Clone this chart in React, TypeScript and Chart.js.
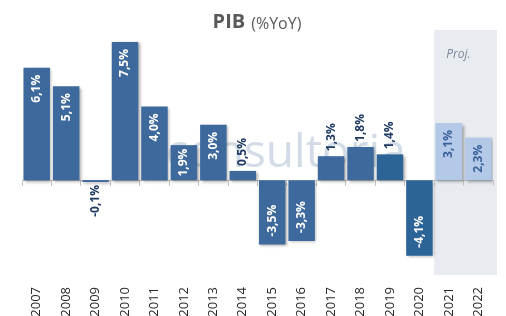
import React, { useEffect, useRef } from "react";
import { Chart, registerables } from "chart.js";

Chart.register(...registerables);

const years = ["2007", "2008", "2009", "2010", "2011", "2012", "2013", "2014", "2015", "2016", "2017", "2018", "2019", "2020", "2021", "2022"];
const gdpGrowth = [6.1, 5.1, -0.1, 7.5, 4.0, 1.9, 3.0, 0.5, -3.5, -3.3, 1.3, 1.8, 1.4, -4.1, 3.1, 2.3];
const projectedYears = ["2021", "2022"];
const recentYears = ["2019", "2020"];
const titleBold = "PIB";
const titleNormal = "(%YoY)";
const projLabel = "Proj.";
const watermarkText = "consultoria";

const FONT = "'Open Sans', 'DejaVu Sans', sans-serif";

const barColor = (y: string) =>
  projectedYears.includes(y) ? "#B4C8E8" : recentYears.includes(y) ? "#2C6498" : "#3D699D";

const fmt = (v: number) => v.toFixed(1).replace(".", ",") + "%";

const bgPlugin = {
  id: "bgPlugin",
  beforeDraw(chart: any) {
    const { ctx, chartArea } = chart;
    const x = chart.scales.x;
    const first = years.indexOf(projectedYears[0]);
    const half = (x.getPixelForValue(1) - x.getPixelForValue(0)) / 2;
    const left = x.getPixelForValue(first) - half;
    const right = chartArea.right + 4;
    ctx.save();
    ctx.fillStyle = "#E8ECF0";
    ctx.fillRect(left, chartArea.top, right - left, chartArea.bottom - chartArea.top);
    ctx.fillStyle = "#7C8798";
    ctx.font = `italic 12px ${FONT}`;
    ctx.textBaseline = "alphabetic";
    ctx.textAlign = "left";
    ctx.fillText(projLabel, left + 12, chartArea.top + 28);
    // watermark
    ctx.fillStyle = "rgba(196,208,222,0.75)";
    ctx.font = `46px ${FONT}`;
    ctx.fillText(watermarkText, 166, 167);
    ctx.restore();
  },
  beforeDatasetsDraw(chart: any) {
    const ctx = chart.ctx;
    ctx.save();
    ctx.shadowColor = "rgba(0,0,0,0.35)";
    ctx.shadowBlur = 3;
    ctx.shadowOffsetX = 1.5;
    ctx.shadowOffsetY = 1.5;
  },
  afterDatasetsDraw(chart: any) {
    const ctx = chart.ctx;
    ctx.restore();
    const meta = chart.getDatasetMeta(0);
    ctx.save();
    ctx.font = `bold 12px ${FONT}`;
    ctx.textBaseline = "middle";
    meta.data.forEach((el: any, i: number) => {
      const v = gdpGrowth[i];
      const label = fmt(v);
      const tw = ctx.measureText(label).width;
      const len = Math.abs(el.base - el.y);
      const inside = len >= 34;
      const inset = Math.min(7, Math.max(3, (len - tw) / 2));
      const proj = projectedYears.includes(years[i]);
      ctx.save();
      let anchorY: number;
      let align: CanvasTextAlign;
      if (v >= 0) {
        if (inside) {
          anchorY = el.y + inset;
          align = "right";
        } else {
          anchorY = el.y - 5;
          align = "left";
        }
      } else {
        if (inside) {
          anchorY = el.y - 8;
          align = "left";
        } else {
          anchorY = el.y + 3;
          align = "right";
        }
      }
      ctx.fillStyle = inside ? (proj ? "#3A6399" : "#FFFFFF") : "#1F3A63";
      ctx.translate(el.x, anchorY);
      ctx.rotate(-Math.PI / 2);
      ctx.textAlign = align;
      ctx.fillText(label, 0, 0);
      ctx.restore();
    });
    ctx.restore();
  },
  afterDraw(chart: any) {
    const ctx = chart.ctx;
    ctx.save();
    ctx.fillStyle = "#595959";
    ctx.textBaseline = "alphabetic";
    ctx.textAlign = "left";
    const boldFont = `bold 20px ${FONT}`;
    const normFont = `16px ${FONT}`;
    ctx.font = boldFont;
    const w1 = ctx.measureText(titleBold).width;
    ctx.font = normFont;
    const w2 = ctx.measureText(titleNormal).width;
    const gap = 6;
    const total = w1 + gap + w2;
    const cx = 257;
    const x0 = cx - total / 2;
    ctx.font = boldFont;
    ctx.fillText(titleBold, x0, 28);
    ctx.font = normFont;
    ctx.fillText(titleNormal, x0 + w1 + gap, 29);
    ctx.restore();
  },
};

export default function App() {
  const ref = useRef<HTMLCanvasElement>(null);
  useEffect(() => {
    if (!ref.current) return;
    const chart = new Chart(ref.current, {
      type: "bar",
      data: {
        labels: years,
        datasets: [
          {
            data: gdpGrowth,
            backgroundColor: years.map(barColor),
            borderWidth: 0,
            barPercentage: 0.9,
            categoryPercentage: 1,
          },
        ],
      },
      options: {
        animation: false,
        responsive: false,
        layout: { padding: { left: 22, right: 13, top: 30, bottom: 0 } },
        plugins: { legend: { display: false }, tooltip: { enabled: false }, title: { display: false } },
        scales: {
          y: { display: false, min: -5.15, max: 8.15 },
          x: {
            position: { y: 0 } as any,
            offset: true,
            grid: {
              offset: true,
              drawOnChartArea: false,
              drawTicks: true,
              tickLength: 5,
              color: "#C4C4C4",
            },
            border: { display: true, color: "#C4C4C4" },
            ticks: { display: false },
          },
          x2: {
            type: "category",
            labels: years,
            position: "bottom",
            offset: true,
            grid: { display: false },
            border: { display: false },
            ticks: {
              minRotation: 90,
              maxRotation: 90,
              padding: 4,
              color: "#262626",
              font: { family: FONT, size: 13 },
            },
            afterFit: (s: any) => {
              s.height = 41;
            },
          },
        },
      },
      plugins: [bgPlugin],
    });
    return () => chart.destroy();
  }, []);
  return (
    <div style={{ position: "absolute", left: 0, top: 0, width: 506, height: 316, background: "#fff" }}>
      <canvas ref={ref} width={506} height={316} />
    </div>
  );
}
